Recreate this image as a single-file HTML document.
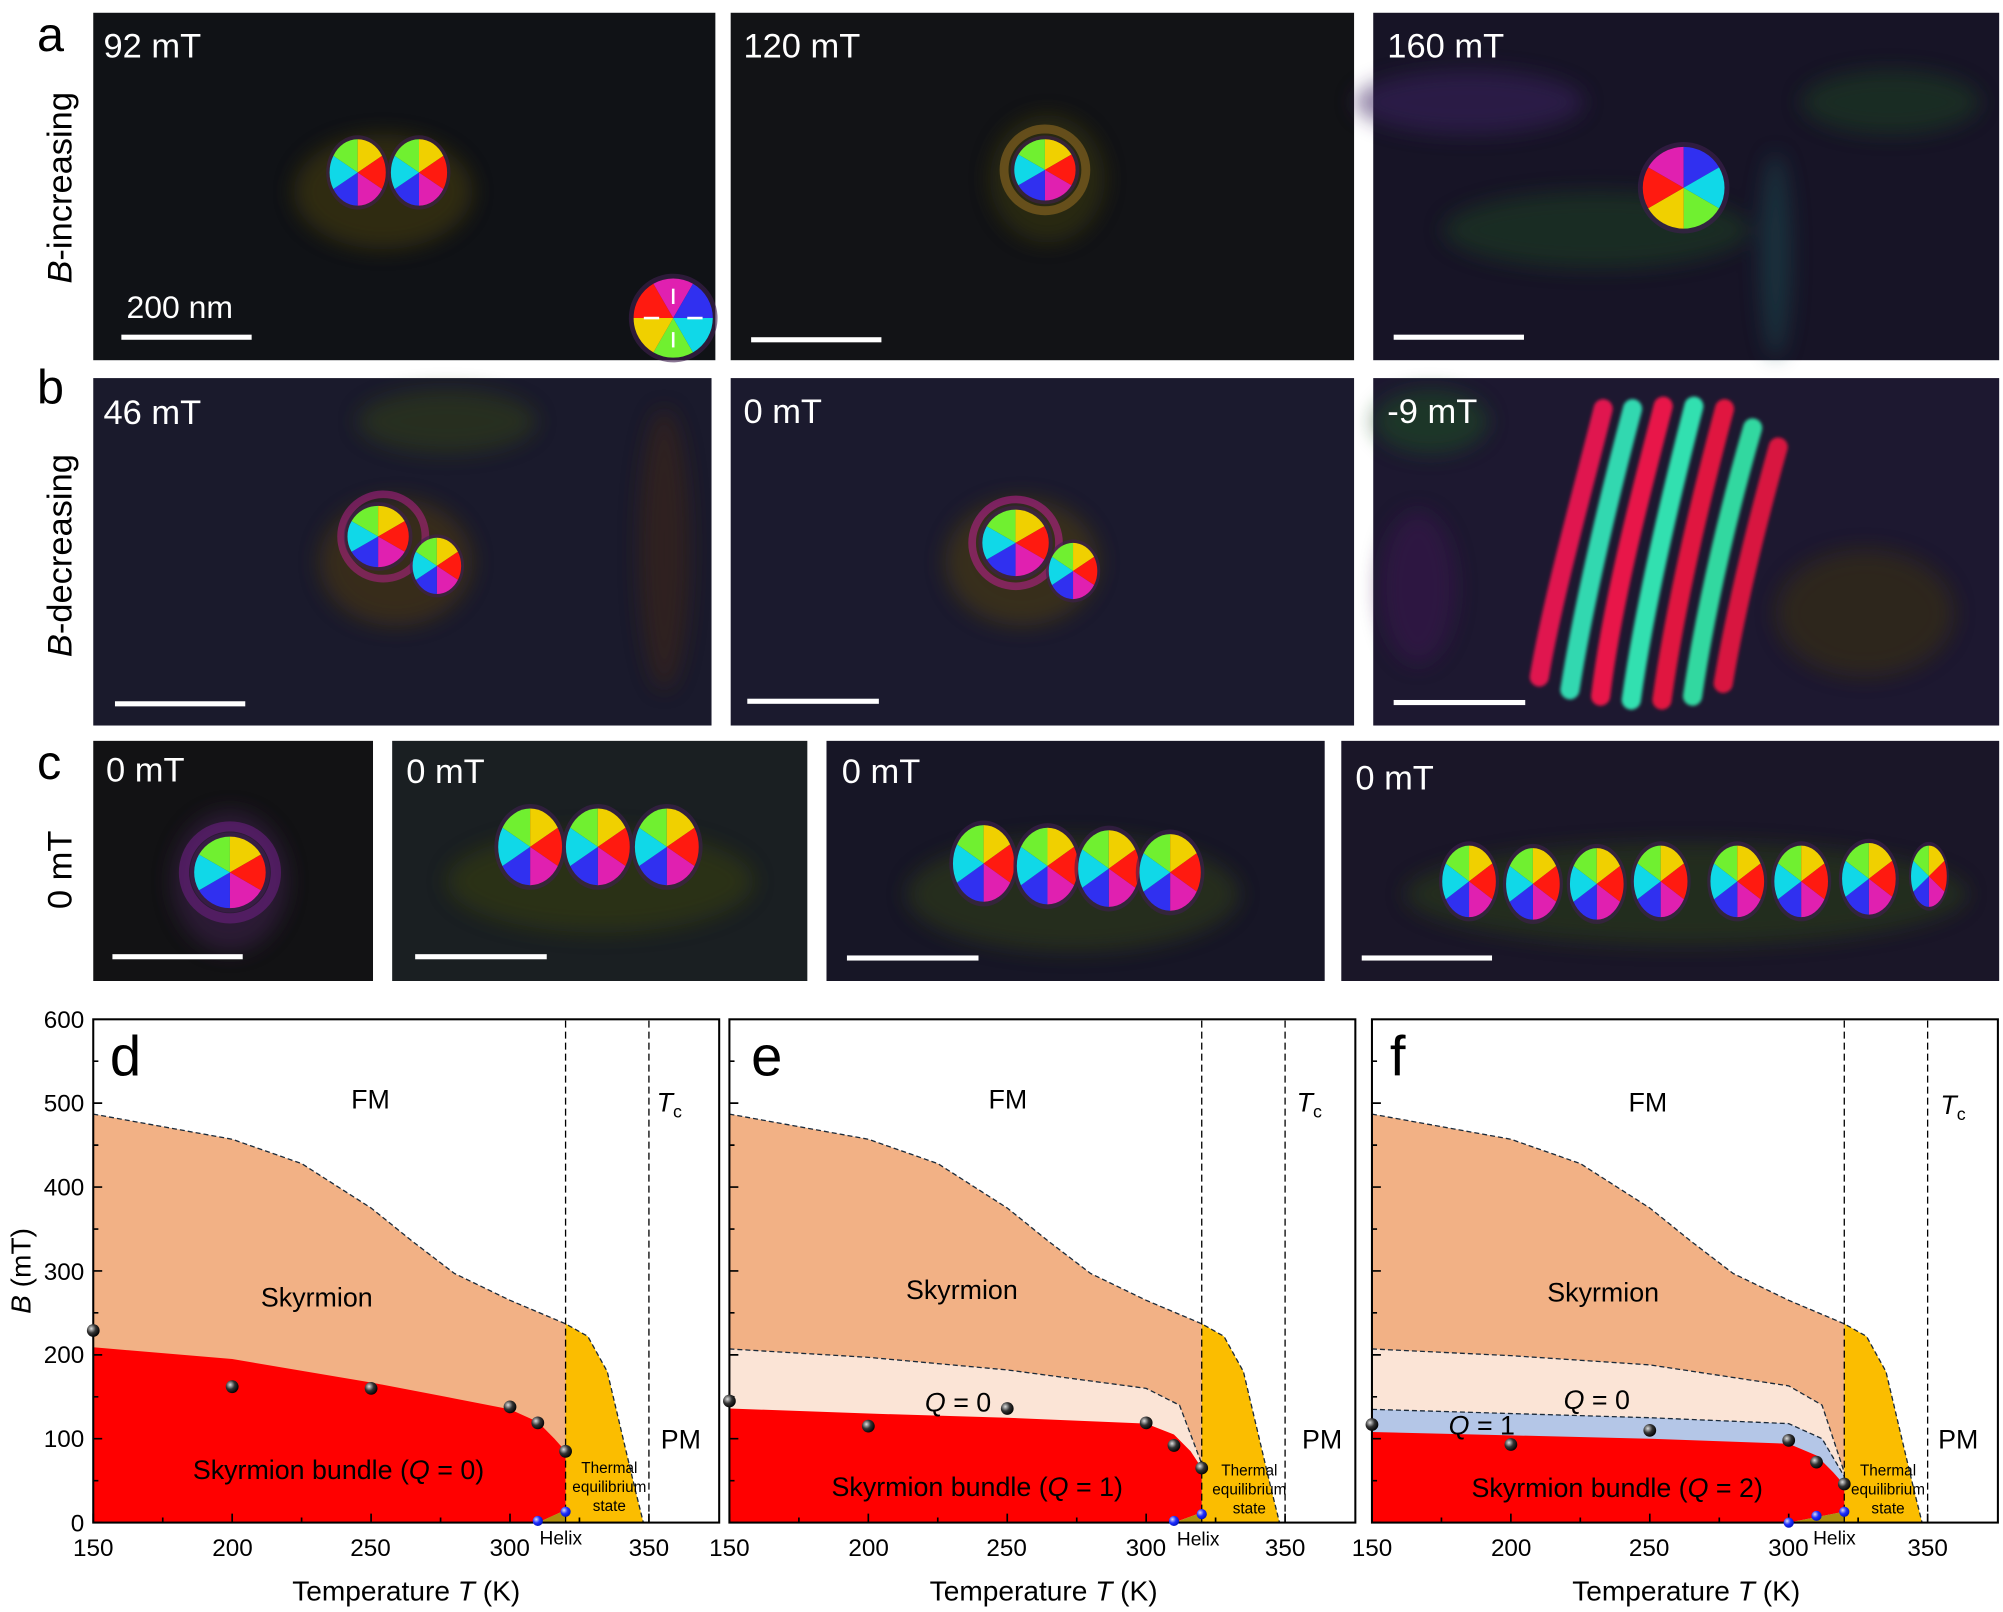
<!DOCTYPE html>
<html><head><meta charset="utf-8"><style>
html,body{margin:0;padding:0;background:#fff;}
svg{display:block;}
text{font-family:"Liberation Sans",sans-serif;}
</style></head><body>
<svg width="2003" height="1612" viewBox="0 0 1568 1262" preserveAspectRatio="none" xmlns="http://www.w3.org/2000/svg">
<defs>
<g id="sk">
<circle r="1.12" fill="#402050" opacity="0.6"/>
<path d="M0 0 L-0.866 -0.5 A1 1 0 0 1 0 -1 Z" fill="#70f030"/>
<path d="M0 0 L0 -1 A1 1 0 0 1 0.866 -0.5 Z" fill="#f0d000"/>
<path d="M0 0 L0.866 -0.5 A1 1 0 0 1 0.866 0.5 Z" fill="#ff1a10"/>
<path d="M0 0 L0.866 0.5 A1 1 0 0 1 0 1 Z" fill="#e020b0"/>
<path d="M0 0 L0 1 A1 1 0 0 1 -0.866 0.5 Z" fill="#3030f0"/>
<path d="M0 0 L-0.866 0.5 A1 1 0 0 1 -0.866 -0.5 Z" fill="#10d8e8"/>
</g>
<filter id="bl" x="-50%" y="-50%" width="200%" height="200%"><feGaussianBlur stdDeviation="8"/></filter>
<filter id="bl2" x="-20%" y="-20%" width="140%" height="140%"><feGaussianBlur stdDeviation="1.2"/></filter>
<radialGradient id="ball" cx="0.35" cy="0.35" r="0.7"><stop offset="0" stop-color="#ddd"/><stop offset="0.5" stop-color="#333"/><stop offset="1" stop-color="#000"/></radialGradient>
<radialGradient id="bball" cx="0.35" cy="0.35" r="0.7"><stop offset="0" stop-color="#dde"/><stop offset="0.5" stop-color="#2030ff"/><stop offset="1" stop-color="#0010c0"/></radialGradient>
<clipPath id="cp1"><rect x="73" y="10" width="487" height="272"/></clipPath>
<path id="ticks" d="M0 0 v-7 M54.4 0 v-4 M108.75 0 v-7 M163.1 0 v-4 M217.5 0 v-7 M271.9 0 v-4 M326.25 0 v-7 M380.6 0 v-4 M435 0 v-7 M0 0 h7 M0 -32.8 h4 M0 -65.7 h7 M0 -98.5 h4 M0 -131.3 h7 M0 -164.2 h4 M0 -197 h7 M0 -229.8 h4 M0 -262.7 h7 M0 -295.5 h4 M0 -328.4 h7 M0 -361.2 h4" stroke="#000" stroke-width="1.3" fill="none"/>
</defs>

<!-- ===== image panels ===== -->
<g>
<rect x="73" y="10" width="487" height="272" fill="#101216"/>
<rect x="572" y="10" width="488" height="272" fill="#121316"/>
<rect x="1075" y="10" width="490" height="272" fill="#171426"/>
<rect x="73" y="296" width="484" height="272" fill="#1a1a2c"/>
<rect x="572" y="296" width="488" height="272" fill="#1b1a2e"/>
<rect x="1075" y="296" width="490" height="272" fill="#1d1830"/>
<rect x="73" y="580" width="219" height="188" fill="#121214"/>
<rect x="307" y="580" width="325" height="188" fill="#1a1f22"/>
<rect x="647" y="580" width="390" height="188" fill="#171626"/>
<rect x="1050" y="580" width="515" height="188" fill="#1a1628"/>
</g>
<!-- blurred background tints -->
<g filter="url(#bl)" opacity="0.55">
<ellipse cx="300" cy="150" rx="70" ry="45" fill="#4a4010"/>
<ellipse cx="820" cy="140" rx="45" ry="50" fill="#3a3a10"/>
<ellipse cx="1150" cy="80" rx="90" ry="25" fill="#3a2060"/>
<ellipse cx="1250" cy="180" rx="120" ry="30" fill="#1e4020"/>
<ellipse cx="1480" cy="80" rx="70" ry="25" fill="#1e4020"/>
<ellipse cx="1390" cy="200" rx="12" ry="80" fill="#1e4850"/>
<ellipse cx="310" cy="440" rx="60" ry="50" fill="#503a10"/>
<ellipse cx="520" cy="430" rx="20" ry="110" fill="#402818"/>
<ellipse cx="350" cy="330" rx="70" ry="25" fill="#304018"/>
<ellipse cx="800" cy="440" rx="60" ry="50" fill="#504010"/>
<ellipse cx="1120" cy="330" rx="45" ry="25" fill="#1e5020"/>
<ellipse cx="1460" cy="480" rx="70" ry="50" fill="#3a3010"/>
<ellipse cx="1110" cy="460" rx="30" ry="60" fill="#3a1850"/>
<ellipse cx="180" cy="690" rx="45" ry="55" fill="#402050"/>
<ellipse cx="470" cy="690" rx="120" ry="40" fill="#384010"/>
<ellipse cx="840" cy="700" rx="130" ry="45" fill="#304018"/>
<ellipse cx="1320" cy="700" rx="220" ry="40" fill="#2a4018"/>
</g>

<!-- skyrmions -->
<use href="#sk" transform="translate(280,135) scale(22,26)"/>
<use href="#sk" transform="translate(328,135) scale(22,26)"/>
<circle cx="818" cy="133" r="32" fill="none" stroke="#806020" stroke-width="7" opacity="0.7"/>
<use href="#sk" transform="translate(818,133) scale(24)"/>
<use href="#sk" transform="translate(1318,147) scale(32) rotate(180)"/>
<circle cx="300" cy="420" r="33" fill="none" stroke="#c02090" stroke-width="6" opacity="0.5"/>
<use href="#sk" transform="translate(296,420) scale(24)"/>
<use href="#sk" transform="translate(342,443) scale(19,22)"/>
<circle cx="795" cy="425" r="34" fill="none" stroke="#c02090" stroke-width="6" opacity="0.55"/>
<use href="#sk" transform="translate(795,425) scale(26)"/>
<use href="#sk" transform="translate(840,447) scale(19,22)"/>
<circle cx="180" cy="683" r="36" fill="none" stroke="#6a2080" stroke-width="8" opacity="0.6"/>
<use href="#sk" transform="translate(180,683) scale(28)"/>
<use href="#sk" transform="translate(415,663) scale(25,30)"/>
<use href="#sk" transform="translate(468,663) scale(25,30)"/>
<use href="#sk" transform="translate(522,663) scale(25,30)"/>
<use href="#sk" transform="translate(770,676) scale(24,30)"/>
<use href="#sk" transform="translate(820,678) scale(24,30)"/>
<use href="#sk" transform="translate(868,680) scale(24,30)"/>
<use href="#sk" transform="translate(916,683) scale(24,30)"/>
<use href="#sk" transform="translate(1150,690) scale(21,28)"/>
<use href="#sk" transform="translate(1200,692) scale(21,28)"/>
<use href="#sk" transform="translate(1250,692) scale(21,28)"/>
<use href="#sk" transform="translate(1300,690) scale(21,28)"/>
<use href="#sk" transform="translate(1360,690) scale(21,28)"/>
<use href="#sk" transform="translate(1410,690) scale(21,28)"/>
<use href="#sk" transform="translate(1463,688) scale(21,28)"/>
<use href="#sk" transform="translate(1510,686) scale(14,24)"/>
<!-- stripes -->
<g stroke-width="15" stroke-linecap="round" fill="none" filter="url(#bl2)">
<path d="M1205 530 C1215 470 1240 380 1255 320" stroke="#e01850"/>
<path d="M1229 540 C1240 470 1262 380 1278 320" stroke="#30d8b0"/>
<path d="M1253 545 C1262 470 1286 380 1302 318" stroke="#e81848"/>
<path d="M1277 548 C1288 470 1310 380 1326 318" stroke="#30e0b0"/>
<path d="M1301 548 C1312 470 1334 380 1350 320" stroke="#e01840"/>
<path d="M1325 545 C1336 470 1356 390 1372 335" stroke="#30d8a0"/>
<path d="M1349 535 C1360 470 1378 400 1392 350" stroke="#d81840"/>
</g>
<!-- color wheel legend -->
<g transform="translate(527,249) scale(31,31)">
<use href="#sk" transform="scale(1) rotate(-150)"/>
</g>
<g stroke="#fff" stroke-width="2" fill="#fff">
<line x1="527" y1="238" x2="527" y2="226"/><line x1="527" y1="260" x2="527" y2="272"/>
<line x1="516" y1="249" x2="504" y2="249"/><line x1="538" y1="249" x2="550" y2="249"/>
</g>

<!-- image labels -->
<g fill="#fff" font-size="27">
<text x="81" y="45">92 mT</text><text x="582" y="45">120 mT</text><text x="1086" y="45">160 mT</text>
<text x="81" y="332">46 mT</text><text x="582" y="331">0 mT</text><text x="1086" y="331">-9 mT</text>
<text x="83" y="612">0 mT</text><text x="318" y="613">0 mT</text><text x="659" y="613">0 mT</text><text x="1061" y="618">0 mT</text>
<text x="99" y="249" font-size="25">200 nm</text>
</g>
<g fill="#fff">
<rect x="95" y="262" width="102" height="4"/><rect x="588" y="264" width="102" height="4"/><rect x="1091" y="262" width="102" height="4"/>
<rect x="90" y="549" width="102" height="4"/><rect x="585" y="547" width="103" height="4"/><rect x="1091" y="548" width="103" height="4"/>
<rect x="88" y="747" width="102" height="4"/><rect x="325" y="747" width="103" height="4"/><rect x="663" y="748" width="103" height="4"/><rect x="1066" y="748" width="102" height="4"/>
</g>
<g font-size="38" fill="#000">
<text x="29" y="40">a</text><text x="29" y="316">b</text><text x="29" y="610">c</text>
</g>
<g font-size="27" fill="#000" text-anchor="middle">
<text transform="translate(56,147) rotate(-90)"><tspan font-style="italic">B</tspan>-increasing</text>
<text transform="translate(56,435) rotate(-90)"><tspan font-style="italic">B</tspan>-decreasing</text>
<text transform="translate(56,681) rotate(-90)">0 mT</text>
</g>

<!-- ===== phase diagrams ===== -->
<!-- d -->
<g transform="translate(73,1192) scale(2.175,-0.6567) translate(-150,0)">
<path d="M150 487 L175 472 L200 457 L225 428 L250 375 L265 335 L280 297 L300 265 L320 237 L320 0 L150 0 Z" fill="#f2b185"/>
<path d="M320 237 L328 222 L335 180 L340 110 L345 40 L348 0 L320 0 Z" fill="#fbbd00"/>
<path d="M150 209 L200 195 L250 167 L280 148 L300 135 L310 120 L316 100 L320 85 L320 15 L310 0 L150 0 Z" fill="#ff0000"/>
<path d="M310 0 L320 15 L320 0 Z" fill="#b0900c"/>
<path d="M150 487 L175 472 L200 457 L225 428 L250 375 L265 335 L280 297 L300 265 L320 237 L328 222 L335 180 L340 110 L345 40 L348 0" fill="none" stroke="#1a2a3a" stroke-width="1.3" stroke-dasharray="5 3" vector-effect="non-scaling-stroke"/>
<path d="M320 0 V600 M350 0 V600" stroke="#000" stroke-width="1.3" stroke-dasharray="7 4" vector-effect="non-scaling-stroke"/>
</g>
<!-- e -->
<g transform="translate(571,1192) scale(2.175,-0.6567) translate(-150,0)">
<path d="M150 487 L175 472 L200 457 L225 428 L250 375 L265 335 L280 297 L300 265 L320 237 L320 0 L150 0 Z" fill="#f2b185"/>
<path d="M150 207 L200 197 L250 182 L300 160 L312 140 L320 70 L320 0 L150 0 Z" fill="#fbe4d6"/>
<path d="M320 237 L328 222 L335 180 L340 110 L345 40 L348 0 L320 0 Z" fill="#fbbd00"/>
<path d="M150 136 L200 130 L250 125 L300 118 L310 105 L316 85 L320 65 L320 12 L310 0 L150 0 Z" fill="#ff0000"/>
<path d="M310 0 L320 12 L320 0 Z" fill="#b0900c"/>
<path d="M150 487 L175 472 L200 457 L225 428 L250 375 L265 335 L280 297 L300 265 L320 237 L328 222 L335 180 L340 110 L345 40 L348 0 M150 207 L200 197 L250 182 L300 160 L312 140 L320 70" fill="none" stroke="#1a2a3a" stroke-width="1.3" stroke-dasharray="5 3" vector-effect="non-scaling-stroke"/>
<path d="M320 0 V600 M350 0 V600" stroke="#000" stroke-width="1.3" stroke-dasharray="7 4" vector-effect="non-scaling-stroke"/>
</g>
<!-- f -->
<g transform="translate(1074,1192) scale(2.175,-0.6567) translate(-150,0)">
<path d="M150 487 L175 472 L200 457 L225 428 L250 375 L265 335 L280 297 L300 265 L320 237 L320 0 L150 0 Z" fill="#f2b185"/>
<path d="M150 207 L200 199 L250 188 L300 163 L312 140 L320 60 L320 0 L150 0 Z" fill="#fbe4d6"/>
<path d="M150 135 L200 130 L250 125 L300 118 L312 100 L320 55 L320 0 L150 0 Z" fill="#b4c6e7"/>
<path d="M320 237 L328 222 L335 180 L340 110 L345 40 L348 0 L320 0 Z" fill="#fbbd00"/>
<path d="M150 108 L200 104 L250 100 L300 94 L310 80 L316 60 L320 45 L320 13 L300 0 L150 0 Z" fill="#ff0000"/>
<path d="M300 0 L320 13 L320 0 Z" fill="#b0900c"/>
<path d="M150 487 L175 472 L200 457 L225 428 L250 375 L265 335 L280 297 L300 265 L320 237 L328 222 L335 180 L340 110 L345 40 L348 0 M150 207 L200 199 L250 188 L300 163 L312 140 L320 60 M150 135 L200 130 L250 125 L300 118 L312 100 L320 55" fill="none" stroke="#1a2a3a" stroke-width="1.3" stroke-dasharray="5 3" vector-effect="non-scaling-stroke"/>
<path d="M320 0 V600 M350 0 V600" stroke="#000" stroke-width="1.3" stroke-dasharray="7 4" vector-effect="non-scaling-stroke"/>
</g>

<!-- frames & ticks -->
<g fill="none" stroke="#000" stroke-width="1.6">
<rect x="73" y="798" width="490" height="394"/>
<rect x="571" y="798" width="490" height="394"/>
<rect x="1074" y="798" width="490" height="394"/>
</g>
<use href="#ticks" transform="translate(73,1192)"/>
<use href="#ticks" transform="translate(571,1192)"/>
<use href="#ticks" transform="translate(1074,1192)"/>

<!-- data points -->
<g transform="translate(73,1192)">
<g fill="url(#ball)"><circle cx="0" cy="-150.4" r="5"/><circle cx="108.75" cy="-106.4" r="5"/><circle cx="217.5" cy="-105.1" r="5"/><circle cx="326.25" cy="-90.6" r="5"/><circle cx="348" cy="-78.1" r="5"/><circle cx="369.75" cy="-55.8" r="5"/></g>
<g fill="url(#bball)"><circle cx="348" cy="-1.3" r="4"/><circle cx="369.75" cy="-8.5" r="4"/></g>
</g>
<g transform="translate(571,1192)">
<g fill="url(#ball)"><circle cx="0" cy="-95.2" r="5"/><circle cx="108.75" cy="-75.5" r="5"/><circle cx="217.5" cy="-89.3" r="5"/><circle cx="326.25" cy="-78.1" r="5"/><circle cx="348" cy="-60.4" r="5"/><circle cx="369.75" cy="-42.7" r="5"/></g>
<g fill="url(#bball)"><circle cx="348" cy="-1.3" r="4"/><circle cx="369.75" cy="-6.6" r="4"/></g>
</g>
<g transform="translate(1074,1192)">
<g fill="url(#ball)"><circle cx="0" cy="-76.8" r="5"/><circle cx="108.75" cy="-61.1" r="5"/><circle cx="217.5" cy="-72.2" r="5"/><circle cx="326.25" cy="-64.4" r="5"/><circle cx="348" cy="-47.3" r="5"/><circle cx="369.75" cy="-30.2" r="5"/></g>
<g fill="url(#bball)"><circle cx="326.25" cy="0" r="4"/><circle cx="348" cy="-5.3" r="4"/><circle cx="369.75" cy="-8.5" r="4"/></g>
</g>

<!-- axis labels -->
<g font-size="19" fill="#000" text-anchor="end">
<text x="66" y="805">600</text><text x="66" y="870">500</text><text x="66" y="936">400</text><text x="66" y="1002">300</text><text x="66" y="1067">200</text><text x="66" y="1133">100</text><text x="66" y="1199">0</text>
</g>
<g font-size="19" fill="#000" text-anchor="middle">
<text x="73" y="1218">150</text><text x="182" y="1218">200</text><text x="290" y="1218">250</text><text x="399" y="1218">300</text><text x="508" y="1218">350</text>
<text x="571" y="1218">150</text><text x="680" y="1218">200</text><text x="788" y="1218">250</text><text x="897" y="1218">300</text><text x="1006" y="1218">350</text>
<text x="1074" y="1218">150</text><text x="1183" y="1218">200</text><text x="1291" y="1218">250</text><text x="1400" y="1218">300</text><text x="1509" y="1218">350</text>
<text x="318" y="1253" font-size="22">Temperature <tspan font-style="italic">T</tspan> (K)</text>
<text x="817" y="1253" font-size="22">Temperature <tspan font-style="italic">T</tspan> (K)</text>
<text x="1320" y="1253" font-size="22">Temperature <tspan font-style="italic">T</tspan> (K)</text>
<text transform="translate(24,995) rotate(-90)" font-size="22"><tspan font-style="italic">B</tspan> (mT)</text>
</g>
<g fill="#000" font-size="21" text-anchor="middle">
<text x="290" y="868">FM</text><text x="789" y="868">FM</text><text x="1290" y="870">FM</text>
<text x="248" y="1023">Skyrmion</text><text x="753" y="1017">Skyrmion</text><text x="1255" y="1019">Skyrmion</text>
<text x="750" y="1105"><tspan font-style="italic">Q</tspan> = 0</text>
<text x="1250" y="1103"><tspan font-style="italic">Q</tspan> = 0</text>
<text x="1160" y="1123"><tspan font-style="italic">Q</tspan> = 1</text>
<text x="265" y="1158">Skyrmion bundle (<tspan font-style="italic">Q</tspan> = 0)</text>
<text x="765" y="1171">Skyrmion bundle (<tspan font-style="italic">Q</tspan> = 1)</text>
<text x="1266" y="1172">Skyrmion bundle (<tspan font-style="italic">Q</tspan> = 2)</text>
<text x="533" y="1134">PM</text><text x="1035" y="1134">PM</text><text x="1533" y="1134">PM</text>
</g>
<g fill="#000" font-size="21">
<text x="514" y="870"><tspan font-style="italic">T</tspan><tspan font-size="14" dy="5">c</tspan></text>
<text x="1015" y="870"><tspan font-style="italic">T</tspan><tspan font-size="14" dy="5">c</tspan></text>
<text x="1519" y="872"><tspan font-style="italic">T</tspan><tspan font-size="14" dy="5">c</tspan></text>
</g>
<g fill="#000" font-size="12" text-anchor="middle">
<text x="477" y="1153">Thermal</text><text x="477" y="1168">equilibrium</text><text x="477" y="1183">state</text>
<text x="978" y="1155">Thermal</text><text x="978" y="1170">equilibrium</text><text x="978" y="1185">state</text>
<text x="1478" y="1155">Thermal</text><text x="1478" y="1170">equilibrium</text><text x="1478" y="1185">state</text>
</g>
<g fill="#000" font-size="15" text-anchor="middle">
<text x="439" y="1209">Helix</text><text x="938" y="1210">Helix</text><text x="1436" y="1209">Helix</text>
</g>
<g fill="#000" font-size="44">
<text x="86" y="842">d</text><text x="588" y="842">e</text><text x="1088" y="842">f</text>
</g>
</svg>
</body></html>
